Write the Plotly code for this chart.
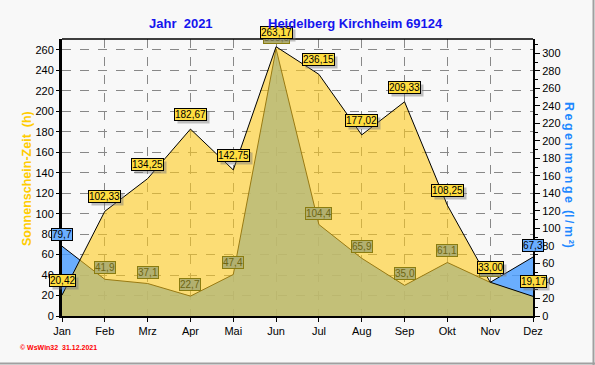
import plotly.graph_objects as go

months = ["Jan", "Feb", "Mrz", "Apr", "Mai", "Jun", "Jul", "Aug", "Sep", "Okt", "Nov", "Dez"]
sunshine = [20.42, 102.33, 134.25, 182.67, 142.75, 263.17, 236.15, 177.02, 209.33, 108.25, 33.00, 19.17]
rain = [79.7, 41.9, 37.1, 22.7, 47.4, 305.0, 104.4, 65.9, 35.0, 61.1, 38.4, 67.3]

SUN_MAX = 270.7
RAIN_MAX = 316.3

W, H = 595, 365
ML, MR, MT, MB = 62, 62, 39, 49
PW, PH = W - ML - MR, H - MT - MB


def px_x(p):
    return (p - ML) / PW


def px_y(p):
    return (H - MB - p) / PH


BG = "#F8F8F8"
FONT = "Arial, Liberation Sans, sans-serif"
HS = "\u2009"

fig = go.Figure()

# rain on base axis (drawn below), sunshine on overlaying axis (drawn above)
fig.add_trace(go.Scatter(
    x=months, y=rain, yaxis="y", mode="lines",
    line=dict(color="black", width=1),
    fill="tozeroy", fillcolor="rgba(75,158,255,0.82)",
    hoverinfo="skip", showlegend=False,
))
fig.add_trace(go.Scatter(
    x=months, y=sunshine, yaxis="y2", mode="lines",
    line=dict(color="black", width=1),
    fill="tozeroy", fillcolor="rgba(255,204,30,0.6)",
    hoverinfo="skip", showlegend=False,
))

annotations = []


def fmt(v, d):
    return f"{v:.{d}f}".replace(".", ",")


LBL = 10

# rain labels
for m, r, s in zip(months, rain, sunshine):
    inside = (s / SUN_MAX) > (r / RAIN_MAX)
    if inside:
        bg, fc, bc = "#B2B070", "#6E6612", "#8A7C10"
    else:
        bg, fc, bc = "#6AAEFF", "black", "black"
    annotations.append(dict(
        x=m, y=r, xref="x", yref="y", text=fmt(r, 1), showarrow=False,
        xanchor="center", yanchor="bottom", yshift=5,
        font=dict(family=FONT, size=LBL, color=fc),
        bgcolor=bg, bordercolor=bc, borderwidth=1, borderpad=0,
    ))

# sunshine labels with shadow
for m, s in zip(months, sunshine):
    annotations.append(dict(
        x=m, y=s, xref="x", yref="y2", text=fmt(s, 2), showarrow=False,
        xanchor="center", yanchor="bottom", yshift=5, xshift=3,
        font=dict(family=FONT, size=LBL, color="rgba(0,0,0,0)"),
        bgcolor="rgba(120,120,120,0.45)", borderwidth=1, bordercolor="rgba(0,0,0,0)", borderpad=0,
    ))
    annotations.append(dict(
        x=m, y=s, xref="x", yref="y2", text=fmt(s, 2), showarrow=False,
        xanchor="center", yanchor="bottom", yshift=8,
        font=dict(family=FONT, size=LBL, color="black"),
        bgcolor="#FFDD40", bordercolor="black", borderwidth=1, borderpad=0,
    ))

# titles
annotations += [
    dict(x=px_x(181), y=px_y(24), xref="paper", yref="paper", text="<b>Jahr  2021</b>",
         xanchor="center", yanchor="middle",
         showarrow=False, font=dict(family=FONT, size=13, color="#1414EE")),
    dict(x=px_x(355), y=px_y(24), xref="paper", yref="paper", text="<b>Heidelberg Kirchheim 69124</b>",
         xanchor="center", yanchor="middle",
         showarrow=False, font=dict(family=FONT, size=13, color="#1414EE")),
    dict(x=px_x(27), y=px_y(179), xref="paper", yref="paper", text="<b>Sonnenschein-Zeit  (h)</b>",
         xanchor="center", yanchor="middle",
         showarrow=False, textangle=-90, font=dict(family=FONT, size=12.5, color="#FFCC00")),
    dict(x=px_x(569), y=px_y(175), xref="paper", yref="paper",
         text="<b>" + HS.join("Regenmenge") + "  (" + HS.join("l/m²") + ")</b>",
         xanchor="center", yanchor="middle",
         showarrow=False, textangle=90, font=dict(family=FONT, size=12.5, color="#1E88FF")),
    dict(x=px_x(18), y=px_y(347), xref="paper", yref="paper", text="<b>© WsWin32  31.12.2021</b>",
         xanchor="left", yanchor="middle",
         showarrow=False, font=dict(family=FONT, size=7, color="#FF0000")),
]

shapes = [
    dict(type="line", xref="paper", yref="paper", x0=0, x1=1, y0=1, y1=1,
         line=dict(color="black", width=1.5)),
    dict(type="line", xref="paper", yref="paper", x0=px_x(0), x1=px_x(595), y0=px_y(363.5), y1=px_y(363.5),
         line=dict(color="#A0A0A0", width=2)),
    dict(type="line", xref="paper", yref="paper", x0=px_x(593.5), x1=px_x(593.5), y0=px_y(0), y1=px_y(365),
         line=dict(color="#A0A0A0", width=2)),
]

fig.update_layout(
    width=W, height=H,
    margin=dict(l=ML, r=MR, t=MT, b=MB),
    paper_bgcolor=BG, plot_bgcolor=BG,
    showlegend=False,
    annotations=annotations, shapes=shapes,
    xaxis=dict(
        type="category", categoryorder="array", categoryarray=months,
        range=[0, 11], showgrid=True, gridcolor="#888888", griddash="dash", gridwidth=1,
        showline=True, linecolor="black", linewidth=2,
        ticks="outside", ticklen=4, tickcolor="black",
        tickfont=dict(family=FONT, size=11, color="black"), zeroline=False,
    ),
    yaxis=dict(
        side="right", range=[0, RAIN_MAX], dtick=20, showgrid=False, zeroline=False,
        showline=True, linecolor="black", linewidth=2,
        ticks="outside", ticklen=5, tickcolor="black",
        minor=dict(dtick=10, ticks="outside", ticklen=3, tickcolor="black"),
        tickfont=dict(family=FONT, size=11, color="black"),
    ),
    yaxis2=dict(
        side="left", overlaying="y", anchor="x", range=[0, SUN_MAX], dtick=20,
        showgrid=True, gridcolor="#888888", griddash="dash", gridwidth=1, zeroline=False,
        showline=True, linecolor="black", linewidth=3,
        ticks="outside", ticklen=3, tickcolor="black",
        tickfont=dict(family=FONT, size=11, color="black"),
    ),
)

fig.write_html(
    "out.html",
    config={"displayModeBar": False},
    post_script="document.body.style.margin='0';document.body.style.background='#F8F8F8';",
)
